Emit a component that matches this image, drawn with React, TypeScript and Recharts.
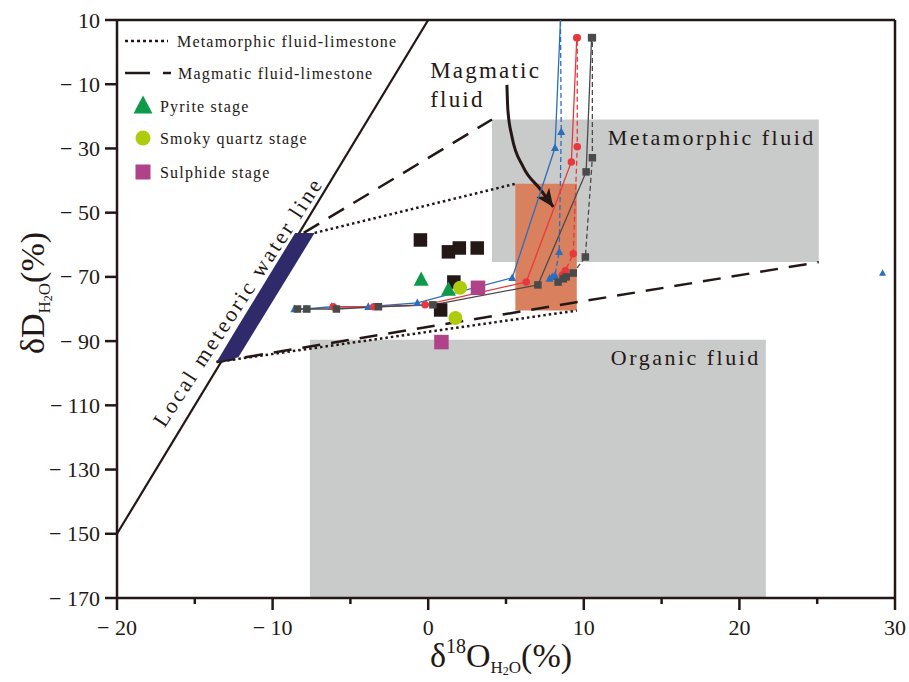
import React from "react";
import {
  ComposedChart,
  XAxis,
  YAxis,
  Line,
  Area,
  Scatter,
  ReferenceArea,
  ReferenceLine,
  ReferenceDot,
  Customized,
} from "recharts";

const INK = "#231815";
const SERIF = '"Liberation Serif", "Times New Roman", serif';

// axes
const xTicks = [-20, -15, -10, -5, 0, 5, 10, 15, 20, 25, 30];
const yTicks = [10, -10, -30, -50, -70, -90, -110, -130, -150, -170];

// fluid fields: [x1, x2, y1, y2]
const metamorphicBox = [4.1, 25.1, -65.4, -21];
const magmaticBox = [5.6, 9.55, -80.5, -41];
const organicBox = [-7.6, 21.7, -170, -89.6];

// local meteoric water line
const mwlX = [-20, 0];
const mwlY = [-150, 10];

// limestone band (range area)
const bandX = [-13.6, -12.2, -8.55, -7.3];
const bandLow = [-96.5, -95, -66.2, -56.3];
const bandHigh = [-96.5, -85.2, -56.3, -56.3];

// mixing lines
const dotUpX = [-7.3, 5.6];
const dotUpY = [-56.3, -41];
const dotLowX = [-13.6, 9.55];
const dotLowY = [-96.5, -80.5];
const dashUpX = [-8.0, 4.1];
const dashUpY = [-56.3, -21];
const dashLowX = [-13.6, 25.1];
const dashLowY = [-96.5, -65.4];

// modelled curves
const blueSolidX = [-8.6, -7.85, -6.2, -3.85, -0.7, 5.4, 8.15, 8.5];
const blueSolidY = [-80, -80, -79.3, -79.3, -78.1, -70.3, -29.8, 10];
const blueDashX = [7.8, 7.97, 8.15, 8.42, 8.55, 8.5];
const blueDashY = [-70.5, -70.0, -69.5, -62.2, -24.8, 10];
const redSolidX = [-6.1, -3.5, -0.2, 6.3, 9.2, 9.55];
const redSolidY = [-79.3, -79.3, -78.7, -71.6, -34.2, 4.5];
const redDashX = [8.62, 8.81, 9.32, 9.58, 9.58];
const redDashY = [-69.4, -68.1, -62.8, -29.5, 4.5];
const graySolidX = [-8.4, -7.8, -5.9, -3.2, 0.3, 7.05, 10.15, 10.5];
const graySolidY = [-80, -80, -80, -79.3, -78.7, -72.5, -37.3, 4.5];
const grayDashX = [8.35, 8.68, 8.87, 9.32, 10.1, 10.55, 10.55];
const grayDashY = [-71.6, -70.6, -70.0, -68.8, -63.8, -32.9, 4.5];
const outlierX = [29.2];
const outlierY = [-68.8];

// samples
const blackX = [-0.5, 1.3, 2.0, 3.15, 1.65, 0.8];
const blackY = [-58.5, -62.2, -61.0, -61.0, -71.6, -80.3];
const pyriteX = [-0.45, 1.3];
const pyriteY = [-70.9, -74.0];
const smokyX = [2.05, 1.75];
const smokyY = [-73.4, -82.8];
const sulphideX = [3.2, 0.85];
const sulphideY = [-73.4, -90.3];

// arrow to magmatic field
const arrowX = [5.06, 5.12, 5.38, 6.11, 7.2, 8.04];
const arrowY = [-10.2, -18.0, -26.3, -35.8, -42.7, -48.2];

const pts = (xs: number[], ys: number[]) => xs.map((x, i) => ({ x, y: ys[i] }));

const BLUE = "#2a6ebd";
const RED = "#e8383d";
const GRAY = "#4a4a4a";

const shape = (kind: string, cx: number, cy: number, s: number, fill: string, key?: string) => {
  if (kind === "tri")
    return (
      <polygon
        key={key}
        points={`${cx},${cy - s * 0.55} ${cx - s / 2},${cy + s * 0.4} ${cx + s / 2},${cy + s * 0.4}`}
        fill={fill}
      />
    );
  if (kind === "circle") return <circle key={key} cx={cx} cy={cy} r={s / 2} fill={fill} />;
  return <rect key={key} x={cx - s / 2} y={cy - s / 2} width={s} height={s} fill={fill} />;
};

const dotFn = (id: string, kind: string, color: string, size: number, skipLast: number) => (p: any) => {
  const { cx, cy, index } = p;
  if (cx == null || cy == null || index >= skipLast) return <g key={`${id}-${index}`} />;
  return shape(kind, cx, cy, size, color, `${id}-${index}`);
};

const XTick = (p: any) => {
  const { x, y, payload } = p;
  const v = payload.value;
  const major = v % 10 === 0;
  return (
    <g>
      <line x1={x} y1={y} x2={x} y2={y + (major ? 12 : 6)} stroke={INK} strokeWidth={2.5} />
      {major && (
        <text x={x} y={y + 37} textAnchor="middle" fontFamily={SERIF} fontSize={22} fill={INK}>
          {v < 0 ? `− ${-v}` : `${v}`}
        </text>
      )}
    </g>
  );
};

const YTick = (p: any) => {
  const { x, y, payload } = p;
  const v = payload.value;
  return (
    <g>
      <line x1={x - 12} y1={y} x2={x} y2={y} stroke={INK} strokeWidth={2.5} />
      <text x={x - 17} y={y + 7.5} textAnchor="end" fontFamily={SERIF} fontSize={22} fill={INK}>
        {v < 0 ? `− ${-v}` : `${v}`}
      </text>
    </g>
  );
};

const boxLabel = (text: string, dx: number) => (props: any) => {
  const vb = props.viewBox;
  return (
    <text
      x={vb.x + vb.width - dx}
      y={vb.y + 25}
      textAnchor="end"
      fontFamily={SERIF}
      fontSize={22}
      letterSpacing={2.5}
      fill={INK}
    >
      {text}
    </text>
  );
};

const MwlLabel = (props: any) => {
  const { x, y } = props.viewBox;
  return (
    <text
      x={x}
      y={y}
      dy={7}
      textAnchor="middle"
      transform={`rotate(-57, ${x}, ${y})`}
      fontFamily={SERIF}
      fontSize={22}
      letterSpacing={2.7}
      fill={INK}
    >
      Local meteoric water line
    </text>
  );
};

const MagmaticLabel = (props: any) => {
  const { x, y } = props.viewBox;
  return (
    <text x={x} y={y} fontFamily={SERIF} fontSize={23} letterSpacing={2.2} fill={INK}>
      <tspan x={x}>Magmatic</tspan>
      <tspan x={x} dy={29}>
        fluid
      </tspan>
    </text>
  );
};

const LegendBox = () => (
  <g fontFamily={SERIF} fontSize={16} fill={INK}>
    <line x1={125} y1={41} x2={168} y2={41} stroke={INK} strokeWidth={2.5} strokeDasharray="3 3" />
    <text x={177} y={46.5} letterSpacing={1.2}>
      Metamorphic fluid-limestone
    </text>
    <line x1={125} y1={73} x2={171} y2={73} stroke={INK} strokeWidth={2.5} strokeDasharray="25 13 8 100" />
    <text x={178} y={78.5} letterSpacing={1.2}>
      Magmatic fluid-limestone
    </text>
    {shape("tri", 143, 106, 19, "#0f9a4a")}
    <text x={160} y={111.5} letterSpacing={1.2}>
      Pyrite stage
    </text>
    {shape("circle", 143, 138, 15, "#afcc0c")}
    <text x={160} y={144} letterSpacing={1.2}>
      Smoky quartz stage
    </text>
    {shape("square", 143, 172, 15, "#b0428a")}
    <text x={160} y={177.5} letterSpacing={1.2}>
      Sulphide stage
    </text>
  </g>
);

const AxisTitles = () => (
  <g fontFamily={SERIF} fill={INK}>
    <text x={501} y={667} textAnchor="middle" fontSize={34}>
      δ<tspan fontSize={20} dy={-14}>18</tspan>
      <tspan dy={14}>O</tspan>
      <tspan fontSize={17} dy={6}>H</tspan>
      <tspan fontSize={12} dy={2}>2</tspan>
      <tspan fontSize={17} dy={-2}>O</tspan>
      <tspan dy={-6}>(%)</tspan>
    </text>
    <text x={44} y={293} textAnchor="middle" fontSize={34} transform="rotate(-90, 44, 293)">
      δD
      <tspan fontSize={17} dy={6}>H</tspan>
      <tspan fontSize={12} dy={2}>2</tspan>
      <tspan fontSize={17} dy={-2}>O</tspan>
      <tspan dy={-6}>(%)</tspan>
    </text>
  </g>
);

const bandData = bandX.map((x, i) => ({ x, range: [bandLow[i], bandHigh[i]] }));

export default function App() {
  return (
    <div style={{ position: "absolute", left: 0, top: 0, background: "#fff" }}>
      <ComposedChart width={909} height={682} margin={{ top: 20, right: 14, left: 37, bottom: 34 }}>
        <defs>
          <marker
            id="arrowHead"
            markerUnits="userSpaceOnUse"
            markerWidth={20}
            markerHeight={16}
            refX={18}
            refY={8}
            orient="auto"
          >
            <path d="M0,0 L18,8 L0,16 L5,8 Z" fill={INK} />
          </marker>
        </defs>
        <XAxis
          type="number"
          dataKey="x"
          domain={[-20, 30]}
          ticks={xTicks}
          interval={0}
          allowDataOverflow
          height={50}
          tickSize={0}
          tickMargin={0}
          tickLine={false}
          axisLine={{ stroke: INK, strokeWidth: 2.5 }}
          tick={(p: any) => <XTick {...p} />}
        />
        <YAxis
          type="number"
          dataKey="y"
          domain={[-170, 10]}
          ticks={yTicks}
          interval={0}
          allowDataOverflow
          width={80}
          tickSize={0}
          tickMargin={0}
          tickLine={false}
          axisLine={{ stroke: INK, strokeWidth: 2.5 }}
          tick={(p: any) => <YTick {...p} />}
        />
        <ReferenceArea
          x1={metamorphicBox[0]}
          x2={metamorphicBox[1]}
          y1={metamorphicBox[2]}
          y2={metamorphicBox[3]}
          fill="#c9caca"
          fillOpacity={1}
          stroke="none"
          label={boxLabel("Metamorphic fluid", 3)}
        />
        <ReferenceArea
          x1={organicBox[0]}
          x2={organicBox[1]}
          y1={organicBox[2]}
          y2={organicBox[3]}
          fill="#c9caca"
          fillOpacity={1}
          stroke="none"
          label={boxLabel("Organic fluid", 5)}
        />
        <ReferenceArea
          x1={magmaticBox[0]}
          x2={magmaticBox[1]}
          y1={magmaticBox[2]}
          y2={magmaticBox[3]}
          fill="#d9815f"
          fillOpacity={1}
          stroke="none"
        />
        <ReferenceLine y={10} stroke={INK} strokeWidth={2.5} />
        <ReferenceLine x={30} stroke={INK} strokeWidth={2.5} />

        <Line data={pts(mwlX, mwlY)} dataKey="y" type="linear" stroke={INK} strokeWidth={2.2} dot={false} activeDot={false} isAnimationActive={false} />
        <Area
          data={bandData}
          dataKey="range"
          type="linear"
          fill="#2f2a69"
          fillOpacity={1}
          stroke="none"
          isAnimationActive={false}
          activeDot={false}
          zIndex={450}
        />
        <Line data={pts(dotUpX, dotUpY)} dataKey="y" type="linear" stroke={INK} strokeWidth={2.5} strokeDasharray="2.5 3" dot={false} activeDot={false} isAnimationActive={false} />
        <Line data={pts(dotLowX, dotLowY)} dataKey="y" type="linear" stroke={INK} strokeWidth={2.5} strokeDasharray="2.5 3" dot={false} activeDot={false} isAnimationActive={false} />
        <Line data={pts(dashUpX, dashUpY)} dataKey="y" type="linear" stroke={INK} strokeWidth={2.5} strokeDasharray="18 11" dot={false} activeDot={false} isAnimationActive={false} />
        <Line data={pts(dashLowX, dashLowY)} dataKey="y" type="linear" stroke={INK} strokeWidth={2.5} strokeDasharray="18 11" dot={false} activeDot={false} isAnimationActive={false} />
        <Line
          data={pts(arrowX, arrowY)}
          dataKey="y"
          type="monotone"
          stroke={INK}
          strokeWidth={3}
          markerEnd="url(#arrowHead)"
          dot={false}
          activeDot={false}
          isAnimationActive={false}
        />

        <Scatter data={pts(blackX, blackY)} isAnimationActive={false} shape={(p: any) => shape("square", p.cx, p.cy, 13.5, INK)} />

        <Line data={pts(blueSolidX, blueSolidY)} dataKey="y" type="linear" stroke={BLUE} strokeWidth={1.3} dot={dotFn("bs", "tri", BLUE, 8, blueSolidX.length - 1)} activeDot={false} isAnimationActive={false} />
        <Line data={pts(blueDashX, blueDashY)} dataKey="y" type="linear" stroke={BLUE} strokeWidth={1.3} strokeDasharray="5 3" dot={dotFn("bd", "tri", BLUE, 8, blueDashX.length - 1)} activeDot={false} isAnimationActive={false} />
        <Line data={pts(redSolidX, redSolidY)} dataKey="y" type="linear" stroke={RED} strokeWidth={1.3} dot={dotFn("rs", "circle", RED, 7.5, 99)} activeDot={false} isAnimationActive={false} />
        <Line data={pts(redDashX, redDashY)} dataKey="y" type="linear" stroke={RED} strokeWidth={1.3} strokeDasharray="5 3" dot={dotFn("rd", "circle", RED, 7.5, 99)} activeDot={false} isAnimationActive={false} />
        <Line data={pts(graySolidX, graySolidY)} dataKey="y" type="linear" stroke={GRAY} strokeWidth={1.3} dot={dotFn("gs", "square", GRAY, 7.5, 99)} activeDot={false} isAnimationActive={false} />
        <Line data={pts(grayDashX, grayDashY)} dataKey="y" type="linear" stroke={GRAY} strokeWidth={1.3} strokeDasharray="5 3" dot={dotFn("gd", "square", GRAY, 7.5, 99)} activeDot={false} isAnimationActive={false} />
        <Scatter data={pts(outlierX, outlierY)} isAnimationActive={false} shape={(p: any) => shape("tri", p.cx, p.cy, 7, BLUE)} />

        <Scatter data={pts(pyriteX, pyriteY)} isAnimationActive={false} shape={(p: any) => shape("tri", p.cx, p.cy, 15, "#0f9a4a")} />
        <Scatter data={pts(smokyX, smokyY)} isAnimationActive={false} shape={(p: any) => shape("circle", p.cx, p.cy, 14, "#afcc0c")} />
        <Scatter data={pts(sulphideX, sulphideY)} isAnimationActive={false} shape={(p: any) => shape("square", p.cx, p.cy, 14.5, "#b0428a")} />

        <ReferenceDot x={-12.2} y={-77.8} r={0} stroke="none" fill="none" label={MwlLabel} />
        <ReferenceDot x={0.13} y={-8.0} r={0} stroke="none" fill="none" label={MagmaticLabel} />
        <Customized component={LegendBox} />
        <Customized component={AxisTitles} />
      </ComposedChart>
    </div>
  );
}
